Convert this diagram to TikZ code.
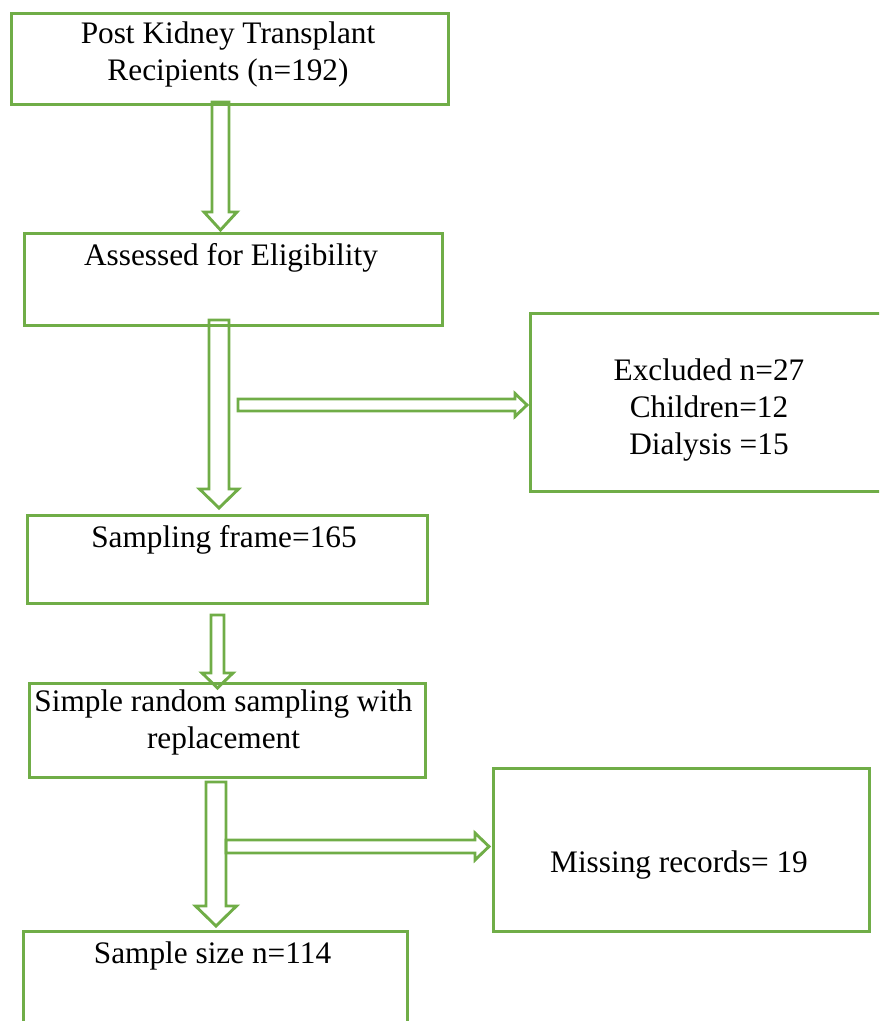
\documentclass[tikz,border=0pt]{standalone}
\usepackage{fontspec}
\setmainfont{Liberation Serif}
\definecolor{boxgreen}{HTML}{70AD47}
% vertical block arrow: centre x, half shaft, half head, top y, head y, tip y
\newcommand\vblock[6]{%
  \draw[blockarrow] ({#1-#2},#4) -- ({#1+#2},#4) -- ({#1+#2},#5) -- ({#1+#3},#5)
    -- (#1,#6) -- ({#1-#3},#5) -- ({#1-#2},#5) -- cycle;}
% horizontal block arrow: centre y, half shaft, half head, left x, head x, tip x
\newcommand\hblock[6]{%
  \draw[blockarrow] (#4,{#1-#2}) -- (#5,{#1-#2}) -- (#5,{#1-#3}) -- (#6,#1)
    -- (#5,{#1+#3}) -- (#5,{#1+#2}) -- (#4,{#1+#2}) -- cycle;}
\begin{document}
\begin{tikzpicture}[x=1pt,y=-1pt,
  box/.style={draw=boxgreen, line width=2.9pt, rectangle, inner sep=0pt, anchor=north west},
  boxtext/.style={font=\fontsize{31.3}{37}\selectfont, inner sep=0pt, align=center, anchor=base},
  blockarrow/.style={draw=boxgreen, line width=2.9pt, line join=miter}]
\useasboundingbox (0,0) rectangle (879,1021);
\clip (0,0) rectangle (879,1021);

% boxes
\node[box, minimum width=437pt, minimum height=91pt] (recip) at (10,12) {};
\node[box, minimum width=418pt, minimum height=92pt] (assess) at (23,232) {};
\node[box, minimum width=356pt, minimum height=178pt] (excl) at (529,312) {};
\node[box, minimum width=400pt, minimum height=88pt] (frame) at (26,514) {};
\node[box, minimum width=396pt, minimum height=94pt] (srs) at (28,682) {};
\node[box, minimum width=376pt, minimum height=163pt] (miss) at (492,767) {};
\node[box, minimum width=384pt, minimum height=110pt] (sample) at (22,930) {};

% box texts (anchor = baseline of the last line)
\node[boxtext] (trecip) at (228,80) {Post Kidney Transplant\\Recipients (n=192)};
\node[boxtext] (tassess) at (231,265) {Assessed for Eligibility};
\node[boxtext] (texcl) at (709,454) {Excluded n=27\\Children=12\\Dialysis =15};
\node[boxtext] (tframe) at (224,547) {Sampling frame=165};
\node[boxtext] (tsrs) at (223.5,748) {Simple random sampling with\\replacement};
\node[boxtext] (tmiss) at (679,872) {Missing records= 19};
\node[boxtext] (tsample) at (212.5,963) {Sample size n=114};

% block arrows
\vblock{220.5}{8.5}{16.5}{102}{212}{230}
\vblock{219}{10}{19.5}{320}{489}{508}
\hblock{405}{6}{11.5}{238}{515}{527}
\vblock{217.5}{6.5}{15.5}{615}{673}{688}
\vblock{216}{10}{20.5}{782}{906}{926}
\hblock{846.5}{6.5}{13.5}{226}{475}{489}
\end{tikzpicture}
\end{document}
